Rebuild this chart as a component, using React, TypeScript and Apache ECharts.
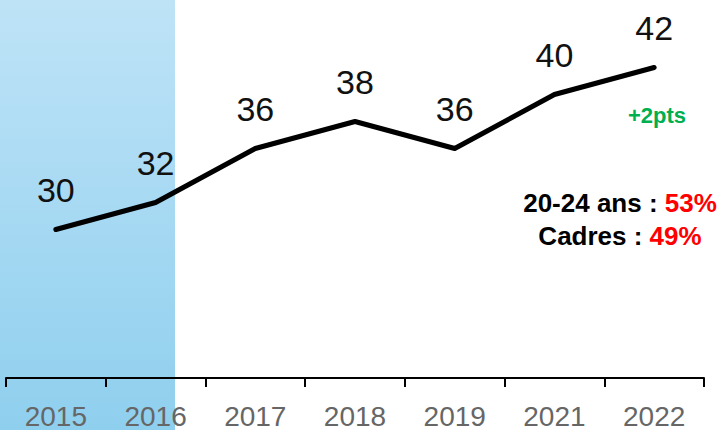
import React, { useEffect, useRef } from "react";
import * as echarts from "echarts";

const categories = ["2015", "2016", "2017", "2018", "2019", "2021", "2022"];
const values = [30, 32, 36, 38, 36, 40, 42];
const deltaLabel = "+2pts";
const line1Label = "20-24 ans : ";
const line1Value = "53%";
const line2Label = "Cadres : ";
const line2Value = "49%";

export default function App() {
  const ref = useRef<HTMLDivElement>(null);
  useEffect(() => {
    if (!ref.current) return;
    const chart = echarts.init(ref.current, null, { renderer: "svg" });
    const font = "'Liberation Sans', Arial, sans-serif";
    const richStyle = {
      a: { fontSize: 26, fontWeight: "bold", fontFamily: font, fill: "#000", color: "#000" },
      b: { fontSize: 26, fontWeight: "bold", fontFamily: font, fill: "#FF0000", color: "#FF0000" },
    };
    chart.setOption({
      animation: false,
      grid: { left: 6, right: 21, top: 0, height: 379, containLabel: false },
      xAxis: {
        type: "category",
        data: categories,
        boundaryGap: true,
        axisLine: { show: true, lineStyle: { color: "#000", width: 2 } },
        axisTick: { show: true, length: 9, lineStyle: { color: "#000", width: 2 } },
        axisLabel: { color: "#666", fontSize: 28, fontFamily: font, margin: 24 },
        splitLine: { show: false },
      },
      yAxis: {
        type: "value",
        min: 19,
        max: 47,
        show: false,
        splitLine: { show: false },
      },
      graphic: [
        {
          type: "rect",
          z: -10,
          shape: { x: 0, y: 0, width: 175, height: 430 },
          style: {
            fill: new echarts.graphic.LinearGradient(0, 0, 0, 1, [
              { offset: 0, color: "#BEE3F7" },
              { offset: 1, color: "#8FCFEE" },
            ]),
          },
          silent: true,
        },
        {
          type: "text",
          z: 100,
          x: 657,
          y: 115,
          style: {
            text: deltaLabel,
            fill: "#00B050",
            font: `bold 22px ${font}`,
            textAlign: "center",
            textVerticalAlign: "middle",
          },
        },
        {
          type: "text",
          z: 100,
          x: 620,
          y: 203,
          style: {
            text: `{a|${line1Label}}{b|${line1Value}}`,
            textAlign: "center",
            textVerticalAlign: "middle",
            rich: richStyle,
          },
        },
        {
          type: "text",
          z: 100,
          x: 620,
          y: 236,
          style: {
            text: `{a|${line2Label}}{b|${line2Value}}`,
            textAlign: "center",
            textVerticalAlign: "middle",
            rich: richStyle,
          },
        },
      ],
      series: [
        {
          type: "line",
          data: values,
          showSymbol: true,
          symbol: "circle",
          symbolSize: 1,
          itemStyle: { color: "rgba(0,0,0,0)" },
          lineStyle: { color: "#000", width: 5, cap: "round", join: "round" },
          label: {
            show: true,
            position: "top",
            distance: 22,
            fontSize: 34,
            color: "#111",
            fontFamily: font,
          },
        },
      ],
    });
    return () => chart.dispose();
  }, []);
  return <div ref={ref} style={{ width: 725, height: 430, position: "absolute", left: 0, top: 0 }} />;
}
